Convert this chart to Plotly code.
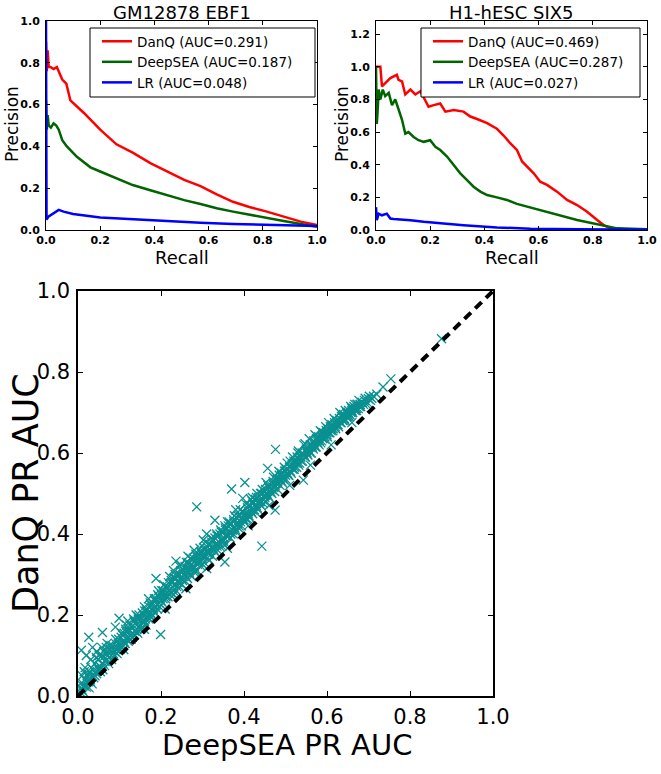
import plotly.graph_objects as go

# ---------------- Panel 1: GM12878 EBF1 ----------------
p1_danq_recall = [0.0, 0.003, 0.006, 0.01, 0.016, 0.028, 0.04, 0.06, 0.075, 0.09, 0.14, 0.2, 0.26, 0.32, 0.385,
                  0.446, 0.51, 0.57, 0.63, 0.69, 0.75, 0.815, 0.877, 0.94, 1.0]
p1_danq_prec = [0.9, 0.76, 0.86, 0.78, 0.78, 0.77, 0.78, 0.72, 0.70, 0.62, 0.56, 0.48, 0.41, 0.37, 0.32,
                0.28, 0.24, 0.21, 0.17, 0.135, 0.11, 0.088, 0.064, 0.04, 0.024]
p1_deep_recall = [0.0, 0.003, 0.006, 0.01, 0.018, 0.028, 0.038, 0.047, 0.06, 0.077, 0.114, 0.164, 0.2, 0.26, 0.32,
                  0.385, 0.446, 0.51, 0.57, 0.63, 0.69, 0.754, 0.815, 0.877, 0.94, 1.0]
p1_deep_prec = [0.62, 0.48, 0.55, 0.5, 0.49, 0.51, 0.50, 0.48, 0.43, 0.40, 0.35, 0.30, 0.28, 0.247, 0.215,
                0.19, 0.167, 0.143, 0.124, 0.104, 0.088, 0.072, 0.056, 0.043, 0.029, 0.016]
p1_lr_recall = [0.0, 0.002, 0.01, 0.028, 0.047, 0.065, 0.1, 0.2, 0.32, 0.446, 0.57, 0.69, 0.815, 1.0]
p1_lr_prec = [1.0, 0.05, 0.065, 0.08, 0.096, 0.088, 0.077, 0.06, 0.051, 0.043, 0.035, 0.029, 0.024, 0.019]

# ---------------- Panel 2: H1-hESC SIX5 ----------------
p2_danq_recall = [0.0, 0.004, 0.016, 0.022, 0.034, 0.053, 0.077, 0.083, 0.096, 0.108, 0.127, 0.145, 0.164, 0.18,
                  0.194, 0.213, 0.237, 0.256, 0.287, 0.323, 0.348, 0.373, 0.41, 0.446, 0.47, 0.496, 0.52,
                  0.539, 0.557, 0.582, 0.606, 0.631, 0.668, 0.705, 0.742, 0.779, 0.816, 0.84, 0.865, 0.914, 1.0]
p2_danq_prec = [1.0, 1.0, 1.0, 0.88, 0.9, 0.93, 0.95, 0.92, 0.91, 0.83, 0.86, 0.83, 0.85, 0.80,
                0.755, 0.765, 0.775, 0.725, 0.735, 0.725, 0.695, 0.68, 0.655, 0.62, 0.58, 0.53, 0.49,
                0.42, 0.39, 0.347, 0.296, 0.276, 0.235, 0.184, 0.153, 0.112, 0.061, 0.03, 0.01, 0.004, 0.002]
p2_deep_recall = [0.0, 0.003, 0.006, 0.01, 0.016, 0.025, 0.034, 0.047, 0.059, 0.071, 0.084, 0.096, 0.108, 0.12,
                  0.139, 0.157, 0.176, 0.2, 0.219, 0.237, 0.262, 0.287, 0.311, 0.336, 0.36, 0.385, 0.41,
                  0.446, 0.483, 0.52, 0.557, 0.594, 0.643, 0.692, 0.742, 0.79, 0.84, 0.89, 1.0]
p2_deep_prec = [1.0, 0.65, 0.73, 0.86, 0.8, 0.86, 0.82, 0.84, 0.765, 0.8, 0.735, 0.675, 0.59, 0.6,
                0.57, 0.55, 0.54, 0.55, 0.51, 0.49, 0.45, 0.40, 0.347, 0.306, 0.265, 0.235, 0.214,
                0.2, 0.184, 0.16, 0.143, 0.127, 0.106, 0.082, 0.061, 0.045, 0.029, 0.01, 0.004]
p2_lr_recall = [0.0, 0.003, 0.01, 0.022, 0.04, 0.053, 0.065, 0.09, 0.127, 0.176, 0.237, 0.323, 0.446, 0.57, 0.75, 1.0]
p2_lr_prec = [0.14, 0.06, 0.10, 0.09, 0.10, 0.07, 0.068, 0.065, 0.06, 0.05, 0.04, 0.029, 0.016, 0.008, 0.004, 0.002]

p1_labels = ["DanQ (AUC=0.291)", "DeepSEA (AUC=0.187)", "LR (AUC=0.048)"]
p2_labels = ["DanQ (AUC=0.469)", "DeepSEA (AUC=0.287)", "LR (AUC=0.027)"]
panel_titles = ["GM12878 EBF1", "H1-hESC SIX5"]

# ---------------- Scatter: DeepSEA vs DanQ PR AUC ----------------
deepsea_auc_a = [
    0.005, 0.008, 0.01, 0.012, 0.015, 0.018, 0.02, 0.022, 0.025, 0.028, 0.03, 0.032, 0.035, 0.038, 0.04, 0.042,
    0.045, 0.048, 0.05, 0.052, 0.008, 0.026, 0.059, 0.015, 0.02, 0.035, 0.045,
    0.055, 0.058, 0.06, 0.062, 0.065, 0.068, 0.07, 0.072, 0.075, 0.078, 0.08, 0.082, 0.085, 0.088, 0.09, 0.092,
    0.095, 0.098, 0.099, 0.1, 0.09, 0.07,
    0.102, 0.105, 0.108, 0.11, 0.112, 0.115, 0.118, 0.12, 0.122, 0.125, 0.128, 0.13, 0.132, 0.135, 0.138, 0.14,
    0.142, 0.145, 0.148, 0.15, 0.12, 0.14,
    0.152, 0.155, 0.158, 0.16, 0.162, 0.165, 0.168, 0.17, 0.172, 0.175, 0.178, 0.18, 0.182, 0.185, 0.188, 0.188,
    0.19, 0.192, 0.195, 0.199, 0.198, 0.17, 0.16,
    0.2, 0.202, 0.205, 0.208, 0.21, 0.212, 0.215, 0.218, 0.22, 0.222, 0.225, 0.228, 0.23, 0.232, 0.235, 0.236,
    0.238, 0.24, 0.242, 0.245, 0.248, 0.25, 0.23, 0.245,
    0.252, 0.255, 0.258, 0.26, 0.262, 0.265, 0.268, 0.27, 0.272, 0.275, 0.278, 0.28, 0.282, 0.285, 0.286, 0.288,
    0.29, 0.292, 0.295, 0.298, 0.3, 0.28, 0.265,
    0.302, 0.302, 0.305, 0.308, 0.31, 0.312, 0.315, 0.318, 0.32, 0.322, 0.325, 0.326, 0.328, 0.33, 0.33, 0.332,
    0.335, 0.338, 0.34, 0.342, 0.345, 0.348, 0.35, 0.31,
    0.352, 0.354, 0.355, 0.358, 0.36, 0.362, 0.365, 0.368, 0.37, 0.37, 0.372, 0.375, 0.378, 0.38, 0.382, 0.385,
    0.388, 0.39, 0.392, 0.395, 0.397, 0.398, 0.4, 0.36, 0.38,
    0.402, 0.402, 0.405, 0.408, 0.41, 0.412, 0.415, 0.418, 0.42, 0.422, 0.425, 0.428, 0.43, 0.432, 0.435, 0.438,
    0.44, 0.442, 0.443, 0.445, 0.448, 0.45, 0.42,
    0.452, 0.453, 0.455, 0.457, 0.458, 0.46, 0.462, 0.465, 0.468, 0.47, 0.472, 0.475, 0.475, 0.476, 0.478, 0.48,
    0.482, 0.485, 0.488, 0.49, 0.492, 0.495, 0.498, 0.5,
    0.502, 0.505, 0.508, 0.51, 0.512, 0.515, 0.518, 0.52, 0.522, 0.525, 0.528, 0.53, 0.532, 0.535, 0.538, 0.54,
    0.543, 0.545, 0.547, 0.548, 0.55, 0.53,
    0.552, 0.555, 0.558, 0.56, 0.562, 0.565, 0.568, 0.57, 0.572, 0.575, 0.578, 0.58, 0.582, 0.585, 0.587, 0.588,
    0.59, 0.592, 0.595, 0.598, 0.6,
    0.602, 0.605, 0.608, 0.61, 0.612, 0.615, 0.618, 0.62, 0.622, 0.625, 0.628, 0.63, 0.632, 0.635, 0.638, 0.64,
    0.642, 0.645, 0.648, 0.65,
    0.652, 0.655, 0.658, 0.66, 0.662, 0.665, 0.668, 0.67, 0.672, 0.675, 0.678, 0.68, 0.685, 0.69, 0.695, 0.7,
    0.705, 0.712, 0.72, 0.735, 0.754, 0.876,
]
danq_auc_a = [
    0.01, 0.02, 0.015, 0.03, 0.025, 0.04, 0.022, 0.05, 0.035, 0.06, 0.04, 0.07, 0.05, 0.045, 0.08, 0.06,
    0.055, 0.09, 0.065, 0.075, 0.113, 0.145, 0.157, 0.06, 0.1, 0.12, 0.11,
    0.07, 0.1, 0.08, 0.11, 0.085, 0.12, 0.09, 0.1, 0.095, 0.115, 0.1, 0.125, 0.105, 0.11, 0.13, 0.115,
    0.12, 0.14, 0.192, 0.125, 0.17, 0.13,
    0.13, 0.12, 0.15, 0.135, 0.13, 0.16, 0.14, 0.145, 0.165, 0.15, 0.14, 0.17, 0.155, 0.15, 0.18, 0.16,
    0.165, 0.19, 0.17, 0.175, 0.185, 0.2,
    0.18, 0.17, 0.2, 0.185, 0.19, 0.21, 0.195, 0.2, 0.22, 0.205, 0.2, 0.23, 0.215, 0.22, 0.29, 0.24,
    0.225, 0.25, 0.23, 0.152, 0.24, 0.24, 0.22,
    0.235, 0.26, 0.24, 0.25, 0.27, 0.245, 0.255, 0.28, 0.26, 0.25, 0.285, 0.27, 0.26, 0.29, 0.275, 0.333,
    0.27, 0.3, 0.285, 0.28, 0.31, 0.29, 0.31, 0.32,
    0.285, 0.3, 0.32, 0.295, 0.31, 0.33, 0.305, 0.3, 0.325, 0.315, 0.34, 0.32, 0.31, 0.335, 0.467, 0.325,
    0.35, 0.335, 0.33, 0.355, 0.34, 0.36, 0.345,
    0.385, 0.345, 0.36, 0.345, 0.37, 0.355, 0.35, 0.375, 0.36, 0.38, 0.365, 0.385, 0.36, 0.434, 0.39, 0.375,
    0.37, 0.395, 0.38, 0.4, 0.385, 0.38, 0.405, 0.4,
    0.39, 0.331, 0.41, 0.395, 0.4, 0.42, 0.405, 0.4, 0.511, 0.425, 0.41, 0.43, 0.415, 0.41, 0.44, 0.425,
    0.42, 0.445, 0.43, 0.44, 0.488, 0.455, 0.435, 0.43, 0.46,
    0.527, 0.45, 0.44, 0.465, 0.45, 0.445, 0.47, 0.455, 0.46, 0.475, 0.46, 0.485, 0.47, 0.465, 0.49, 0.475,
    0.48, 0.5, 0.37, 0.485, 0.495, 0.49, 0.49,
    0.51, 0.527, 0.5, 0.562, 0.495, 0.515, 0.505, 0.52, 0.51, 0.53, 0.515, 0.459, 0.52, 0.609, 0.54, 0.53,
    0.525, 0.545, 0.535, 0.55, 0.54, 0.535, 0.555, 0.545,
    0.56, 0.55, 0.545, 0.565, 0.555, 0.57, 0.56, 0.58, 0.565, 0.575, 0.59, 0.575, 0.57, 0.59, 0.58, 0.6,
    0.533, 0.595, 0.623, 0.59, 0.61, 0.6,
    0.6, 0.61, 0.605, 0.62, 0.6, 0.615, 0.63, 0.62, 0.615, 0.635, 0.625, 0.64, 0.63, 0.625, 0.652, 0.64,
    0.635, 0.65, 0.64, 0.655, 0.645,
    0.66, 0.65, 0.665, 0.655, 0.67, 0.66, 0.675, 0.665, 0.68, 0.67, 0.665, 0.685, 0.675, 0.69, 0.68, 0.695,
    0.685, 0.68, 0.7, 0.69,
    0.705, 0.695, 0.7, 0.71, 0.7, 0.715, 0.705, 0.71, 0.72, 0.71, 0.715, 0.72, 0.725, 0.73, 0.72, 0.734,
    0.73, 0.74, 0.745, 0.763, 0.783, 0.882,
]
deepsea_auc_b = [
    0.003, 0.006, 0.01, 0.013, 0.017, 0.021, 0.024, 0.027, 0.031, 0.034, 0.037, 0.041, 0.044, 0.047, 0.051, 0.054,
    0.057, 0.061, 0.064, 0.067, 0.071, 0.074, 0.077, 0.081, 0.084, 0.087, 0.091, 0.094, 0.097, 0.101, 0.104, 0.107,
    0.111, 0.114, 0.117, 0.121, 0.124, 0.127, 0.131, 0.134, 0.137, 0.141, 0.144, 0.147, 0.151, 0.154, 0.157, 0.161,
    0.164, 0.167, 0.171, 0.174, 0.177, 0.181, 0.184, 0.187, 0.191, 0.194, 0.197, 0.201, 0.204, 0.207, 0.211, 0.214,
    0.217, 0.221, 0.224, 0.227, 0.231, 0.234, 0.237, 0.241, 0.244, 0.247, 0.251, 0.254, 0.257, 0.261, 0.264, 0.267,
    0.271, 0.274, 0.277, 0.281, 0.284, 0.287, 0.291, 0.294, 0.297, 0.301, 0.304, 0.307, 0.311, 0.314, 0.317, 0.321,
    0.324, 0.327, 0.331, 0.334, 0.337, 0.341, 0.344, 0.347, 0.351, 0.354, 0.357, 0.361, 0.364, 0.367, 0.371, 0.374,
    0.377, 0.381, 0.384, 0.387, 0.391, 0.394, 0.397, 0.401, 0.404, 0.407, 0.411, 0.414, 0.417, 0.421, 0.424, 0.427,
    0.431, 0.434, 0.437, 0.441, 0.444, 0.447, 0.451, 0.454, 0.457, 0.461, 0.464, 0.467, 0.471, 0.474, 0.477, 0.481,
    0.484, 0.487, 0.491, 0.494, 0.497, 0.501, 0.504, 0.507, 0.511, 0.514, 0.517, 0.521, 0.524, 0.527, 0.531, 0.534,
    0.537, 0.541, 0.544, 0.547, 0.551, 0.554, 0.557, 0.561, 0.564, 0.567, 0.571, 0.574, 0.577, 0.581, 0.584, 0.587,
    0.591, 0.594, 0.597, 0.601, 0.604, 0.607, 0.611, 0.614, 0.617, 0.621, 0.624, 0.627, 0.631, 0.634, 0.637, 0.641,
    0.644, 0.647, 0.651, 0.654, 0.657, 0.661, 0.664, 0.667, 0.671, 0.674, 0.677, 0.681, 0.684, 0.688, 0.692, 0.697,
    0.702, 0.708,
]
danq_auc_b = [
    0.005, 0.03, 0.05, 0.01, 0.07, 0.035, 0.055, 0.02, 0.09, 0.03, 0.065, 0.05, 0.095, 0.07, 0.1, 0.06,
    0.12, 0.095, 0.075, 0.105, 0.11, 0.08, 0.125, 0.09, 0.115, 0.1, 0.14, 0.105, 0.13, 0.115, 0.145, 0.125,
    0.155, 0.13, 0.175, 0.135, 0.16, 0.15, 0.145, 0.19, 0.16, 0.175, 0.155, 0.2, 0.165, 0.19, 0.18, 0.21,
    0.175, 0.205, 0.19, 0.23, 0.195, 0.21, 0.24, 0.205, 0.215, 0.26, 0.22, 0.25, 0.23, 0.275, 0.24, 0.265,
    0.245, 0.295, 0.255, 0.28, 0.25, 0.3, 0.26, 0.28, 0.27, 0.325, 0.275, 0.31, 0.285, 0.33, 0.29, 0.315,
    0.34, 0.295, 0.32, 0.305, 0.35, 0.31, 0.33, 0.365, 0.32, 0.35, 0.33, 0.38, 0.34, 0.36, 0.335, 0.39,
    0.345, 0.37, 0.355, 0.4, 0.36, 0.37, 0.41, 0.37, 0.385, 0.42, 0.375, 0.395, 0.43, 0.39, 0.41, 0.4,
    0.445, 0.405, 0.43, 0.415, 0.46, 0.42, 0.44, 0.43, 0.475, 0.435, 0.455, 0.44, 0.485, 0.45, 0.47, 0.455,
    0.5, 0.46, 0.48, 0.47, 0.51, 0.475, 0.495, 0.48, 0.52, 0.49, 0.505, 0.5, 0.54, 0.505, 0.525, 0.51,
    0.555, 0.52, 0.53, 0.525, 0.565, 0.535, 0.575, 0.545, 0.58, 0.55, 0.59, 0.56, 0.58, 0.565, 0.605, 0.575,
    0.59, 0.58, 0.62, 0.59, 0.605, 0.595, 0.635, 0.6, 0.62, 0.61, 0.645, 0.615, 0.63, 0.62, 0.655, 0.63,
    0.645, 0.635, 0.665, 0.64, 0.675, 0.65, 0.665, 0.655, 0.685, 0.66, 0.68, 0.67, 0.7, 0.675, 0.69, 0.68,
    0.705, 0.69, 0.7, 0.69, 0.715, 0.7, 0.71, 0.72, 0.705, 0.72, 0.73, 0.715, 0.725, 0.72, 0.735, 0.725,
    0.74, 0.735,
]
deepsea_auc_c = [
    0.105, 0.115, 0.125, 0.135, 0.145, 0.155, 0.165, 0.175, 0.185, 0.195, 0.205, 0.215, 0.225, 0.235, 0.245, 0.255,
    0.265, 0.275, 0.285, 0.295, 0.305, 0.315, 0.325, 0.335, 0.345, 0.355, 0.365, 0.375, 0.385, 0.395, 0.41, 0.42,
    0.43, 0.44, 0.45, 0.46, 0.47, 0.48, 0.49, 0.5, 0.51, 0.52, 0.53, 0.54, 0.55, 0.56, 0.57, 0.58,
    0.59, 0.6, 0.61, 0.62, 0.63, 0.64, 0.65, 0.66, 0.67, 0.68,
    0.03, 0.06, 0.11, 0.16, 0.21, 0.26, 0.31, 0.36, 0.41, 0.46, 0.51, 0.56, 0.61, 0.66,
]
danq_auc_c = [
    0.155, 0.165, 0.175, 0.185, 0.195, 0.205, 0.215, 0.225, 0.235, 0.245, 0.26, 0.27, 0.28, 0.29, 0.3, 0.31,
    0.325, 0.335, 0.345, 0.355, 0.365, 0.375, 0.385, 0.395, 0.405, 0.415, 0.425, 0.435, 0.445, 0.455, 0.47, 0.48,
    0.49, 0.5, 0.505, 0.515, 0.525, 0.535, 0.545, 0.555, 0.565, 0.575, 0.585, 0.595, 0.605, 0.615, 0.625, 0.635,
    0.64, 0.65, 0.66, 0.67, 0.68, 0.685, 0.695, 0.705, 0.71, 0.72,
    0.035, 0.065, 0.115, 0.165, 0.215, 0.265, 0.315, 0.365, 0.42, 0.47, 0.52, 0.57, 0.62, 0.675,
]
diag = [0.0, 1.0]

tick_vals = [0.0, 0.2, 0.4, 0.6, 0.8, 1.0]
tick_text = ["0.0", "0.2", "0.4", "0.6", "0.8", "1.0"]
tick_vals_p2y = [0.0, 0.2, 0.4, 0.6, 0.8, 1.0, 1.2]
tick_text_p2y = ["0.0", "0.2", "0.4", "0.6", "0.8", "1.0", "1.2"]

W, H = 661, 774
RED, GREEN, BLUE, TEAL = "#ff0000", "#006400", "#0000ff", "#0a9090"
FONT = "DejaVu Sans"

fig = go.Figure()

def add_pr(xa, ya, legend, recs, precs, labels):
    for (r, p), lab, col in zip(zip(recs, precs), labels, [RED, GREEN, BLUE]):
        fig.add_trace(go.Scatter(x=r, y=p, mode="lines", name=lab, line=dict(color=col, width=2.5),
                                 xaxis=xa, yaxis=ya, legend=legend, showlegend=True))

add_pr("x", "y", "legend", [p1_danq_recall, p1_deep_recall, p1_lr_recall],
       [p1_danq_prec, p1_deep_prec, p1_lr_prec], p1_labels)
add_pr("x2", "y2", "legend2", [p2_danq_recall, p2_deep_recall, p2_lr_recall],
       [p2_danq_prec, p2_deep_prec, p2_lr_prec], p2_labels)

fig.add_trace(go.Scatter(x=deepsea_auc_a + deepsea_auc_b + deepsea_auc_c,
                         y=danq_auc_a + danq_auc_b + danq_auc_c, mode="markers",
                         xaxis="x3", yaxis="y3", showlegend=False,
                         marker=dict(symbol="x-thin-open", size=9, color=TEAL, line=dict(color=TEAL, width=1.3))))
fig.add_trace(go.Scatter(x=diag, y=diag, mode="lines", xaxis="x3", yaxis="y3", showlegend=False,
                         line=dict(color="black", width=4, dash="9px,6px")))

def px_x(a, b):
    return [a / W, b / W]

def px_y(top, bottom):
    return [1 - bottom / H, 1 - top / H]

small_tick_font = dict(family=FONT, size=11, color="black", weight="bold")
big_tick_font = dict(family=FONT, size=21, color="black")

def axis(domain, anchor, rng, tv, tt, font, lw=1, tl=4, standoff=3):
    return dict(domain=domain, anchor=anchor, range=rng, tickvals=tv, ticktext=tt, tickfont=font,
                showline=True, linecolor="black", linewidth=lw, mirror="allticks", ticks="inside",
                ticklen=tl, tickcolor="black", tickwidth=1, showgrid=False, zeroline=False,
                ticklabelstandoff=standoff, fixedrange=True, automargin=False)

legend_font = dict(family=FONT, size=13.5, color="black")

fig.update_layout(
    width=W, height=H, margin=dict(l=0, r=0, t=0, b=0, autoexpand=False),
    paper_bgcolor="white", plot_bgcolor="white",
    xaxis=axis(px_x(46, 317), "y", [0, 1], tick_vals, tick_text, small_tick_font, standoff=0),
    yaxis=axis(px_y(21, 230), "x", [0, 1], tick_vals, tick_text, small_tick_font),
    xaxis2=axis(px_x(376, 647), "y2", [0, 1], tick_vals, tick_text, small_tick_font, standoff=0),
    yaxis2=axis(px_y(21, 230), "x2", [0, 1.28], tick_vals_p2y, tick_text_p2y, small_tick_font),
    xaxis3=axis(px_x(78, 493), "y3", [0, 1], tick_vals, tick_text, big_tick_font, lw=1.5, tl=5, standoff=1),
    yaxis3=axis(px_y(291, 696), "x3", [0, 1], tick_vals, tick_text, big_tick_font, lw=1.5, tl=5, standoff=2),
    legend=dict(x=97 / W, xanchor="left", y=1 - 26 / H, yanchor="top", borderwidth=0,
                bgcolor="rgba(0,0,0,0)", font=legend_font, itemwidth=30, tracegroupgap=0),
    legend2=dict(x=428 / W, xanchor="left", y=1 - 26 / H, yanchor="top", borderwidth=0,
                 bgcolor="rgba(0,0,0,0)", font=legend_font, itemwidth=30, tracegroupgap=0),
)

# legend frames (matplotlib-style boxes)
for x0, x1 in [(90, 315), (421, 640)]:
    fig.add_shape(type="rect", xref="paper", yref="paper", x0=x0 / W, x1=x1 / W, y0=1 - 97 / H, y1=1 - 28 / H,
                  line=dict(color="black", width=1), fillcolor="white", layer="above")

def note(text, x, y, size, angle=0):
    fig.add_annotation(text=text, x=x / W, y=1 - y / H, xref="paper", yref="paper", showarrow=False,
                       xanchor="center", yanchor="middle", textangle=angle,
                       font=dict(family=FONT, size=size, color="black"))

note(panel_titles[0], 181.5, 12, 18)
note(panel_titles[1], 511.5, 12, 18)
note("Recall", 181.5, 257, 18)
note("Recall", 511.5, 257, 18)
note("Precision", 12, 124, 17, -90)
note("Precision", 342, 124, 17, -90)
note("DanQ PR AUC", 26, 493, 35, -90)
note("DeepSEA PR AUC", 287, 745, 29)

fig.write_html("out.html", config={"displayModeBar": False},
               post_script="document.body.style.margin='0px';")
